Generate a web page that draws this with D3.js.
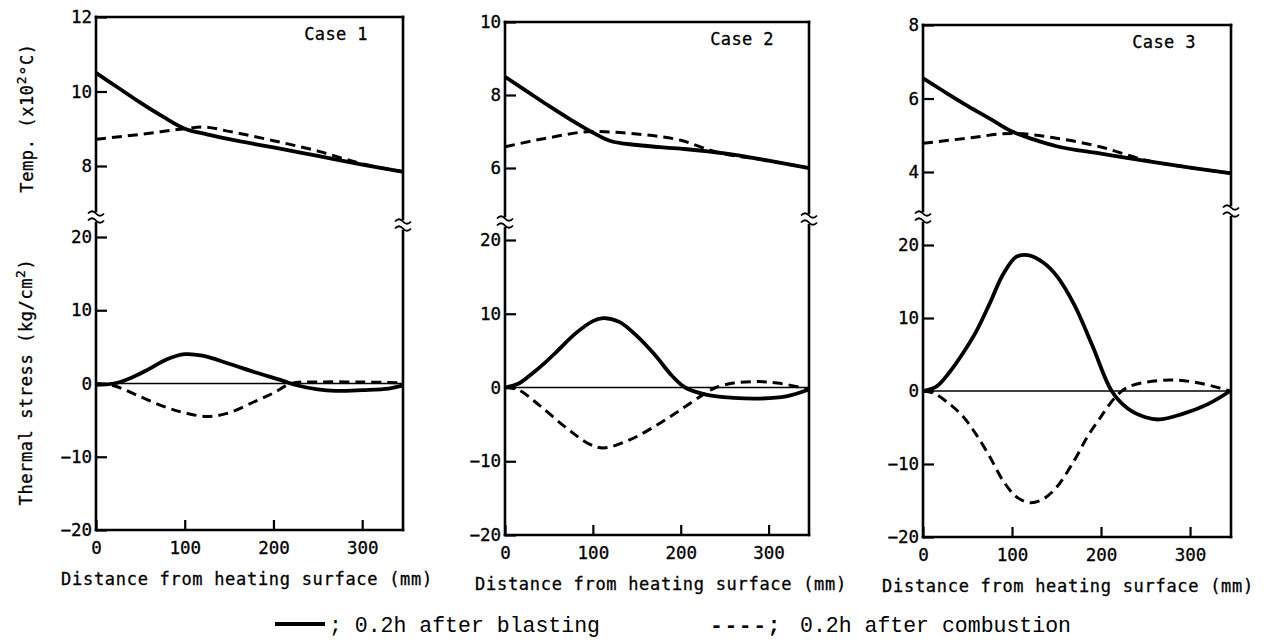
<!DOCTYPE html>
<html>
<head>
<meta charset="utf-8">
<script src="https://cdn.jsdelivr.net/npm/d3@7"></script>
<style>
  body { margin: 0; background: #fff; }
  svg text { fill: #000; }
</style>
</head>
<body>
<svg id="chart" width="1267" height="644"></svg>
<script>
// distance ticks and axis ticks
var xTicks = [0, 100, 200, 300];
var stressTicks = [-20, -10, 0, 10, 20];
var tempTicks1 = [8, 10, 12];
var tempTicks2 = [6, 8, 10];
var tempTicks3 = [4, 6, 8];
var caseNames = ['Case 1', 'Case 2', 'Case 3'];

// temperature (x10^2 C) vs distance (mm)
var c1TempSolid = [[0,10.5],[25,10.1],[50,9.7],[75,9.33],[100,9.0],[125,8.85],[150,8.72],[200,8.5],[250,8.27],[300,8.04],[345,7.85]];
var c1TempDash  = [[0,8.72],[50,8.85],[100,9.0],[120,9.05],[150,8.93],[200,8.68],[250,8.4],[300,8.06],[345,7.85]];
var c2TempSolid = [[0,8.5],[25,8.1],[50,7.7],[75,7.32],[100,6.97],[120,6.74],[150,6.63],[200,6.53],[250,6.4],[300,6.2],[345,6.0]];
var c2TempDash  = [[0,6.58],[50,6.83],[100,7.0],[150,6.93],[200,6.76],[240,6.44],[300,6.2],[345,6.0]];
var c3TempSolid = [[0,6.55],[25,6.17],[50,5.8],[75,5.45],[100,5.1],[125,4.88],[150,4.7],[200,4.5],[250,4.3],[300,4.12],[345,3.97]];
var c3TempDash  = [[0,4.78],[50,4.92],[100,5.05],[150,4.92],[200,4.68],[250,4.32],[300,4.12],[345,3.97]];

// thermal stress (kg/cm2) vs distance (mm)
var c1StressSolid = [[0,-0.2],[20,0],[40,0.8],[60,2.0],[80,3.3],[100,4.0],[120,3.8],[150,2.7],[180,1.5],[210,0.4],[225,-0.2],[250,-0.8],[270,-1.0],[300,-0.9],[330,-0.7],[345,-0.3]];
var c1StressDash  = [[0,0],[20,-0.3],[50,-1.8],[80,-3.3],[100,-4.0],[125,-4.5],[150,-4.0],[180,-2.4],[200,-1.3],[220,0],[250,0.2],[300,0.2],[345,0.1]];
var c2StressSolid = [[0,0],[15,0.5],[30,1.8],[45,3.3],[60,5.0],[80,7.3],[100,9.0],[112,9.4],[130,8.9],[150,7.0],[170,4.5],[190,1.6],[205,0],[230,-1.0],[260,-1.4],[290,-1.5],[320,-1.2],[345,-0.3]];
var c2StressDash  = [[0,0],[15,-0.3],[40,-2.5],[70,-5.5],[95,-7.6],[112,-8.2],[140,-7.2],[170,-5.3],[200,-3.0],[225,-1.0],[240,0],[260,0.6],[285,0.8],[310,0.6],[345,-0.2]];
var c3StressSolid = [[0,0],[15,0.6],[30,2.6],[45,5.2],[60,8.2],[75,12.0],[90,16.0],[105,18.4],[118,18.6],[135,17.6],[150,15.8],[170,11.8],[190,6.3],[212,0],[230,-2.4],[250,-3.6],[265,-3.9],[290,-3.2],[320,-1.8],[345,0]];
var c3StressDash  = [[0,0],[12,-0.3],[30,-1.8],[45,-3.5],[60,-6.0],[75,-9.0],[90,-12.3],[105,-14.5],[120,-15.3],[135,-14.8],[150,-13.2],[170,-9.5],[185,-6.2],[200,-3.5],[215,-1.0],[228,0.4],[250,1.2],[280,1.5],[310,1.1],[345,0]];

var tempTicksAll = [tempTicks1, tempTicks2, tempTicks3];
var tempSolidAll = [c1TempSolid, c2TempSolid, c3TempSolid];
var tempDashAll = [c1TempDash, c2TempDash, c3TempDash];
var stressSolidAll = [c1StressSolid, c2StressSolid, c3StressSolid];
var stressDashAll = [c1StressDash, c2StressDash, c3StressDash];

// page layout of the three panels (pixels)
var layout = [
  {left: 96,  right: 403,  top: 17, tempPx: [166, 17], stressPx: [530, 237], breakL: 217, breakR: 225, titleX: 247},
  {left: 505, right: 809,  top: 22, tempPx: [168, 22], stressPx: [535, 240], breakL: 222, breakR: 219, titleX: 661},
  {left: 923, right: 1231, top: 25, tempPx: [172, 25], stressPx: [537, 245], breakL: 217, breakR: 211, titleX: 1068}
];

var FONT = "'DejaVu Sans Mono', monospace";
var svg = d3.select('#chart');

function breakMark(g, x, y) {
  // little "≈" where the axis is broken
  [-3.5, 3.5].forEach(function(dy) {
    g.append('path')
      .attr('d', 'M' + (x - 8) + ',' + (y + dy) + ' q4,-4.5 8,0 t8,0')
      .attr('fill', 'none')
      .attr('stroke', '#000')
      .attr('stroke-width', 1.8);
  });
}

layout.forEach(function(p, i) {
  var g = svg.append('g');
  var tt = tempTicksAll[i];

  var x = d3.scaleLinear().domain([0, 346]).range([p.left, p.right]);
  var yT = d3.scaleLinear().domain([tt[0], tt[2]]).range(p.tempPx);
  var yS = d3.scaleLinear().domain([-20, 20]).range(p.stressPx);
  var bottom = p.stressPx[0];

  // axis frame lines with breaks
  var frame = [
    [p.left, p.top, p.right, p.top],
    [p.left, p.top, p.left, p.breakL - 6],
    [p.left, p.breakL + 6, p.left, bottom],
    [p.right, p.top, p.right, p.breakR - 6],
    [p.right, p.breakR + 6, p.right, bottom],
    [p.left, bottom, p.right, bottom]
  ];
  frame.forEach(function(f) {
    g.append('line')
      .attr('x1', f[0]).attr('y1', f[1]).attr('x2', f[2]).attr('y2', f[3])
      .attr('stroke', '#000').attr('stroke-width', 2.6).attr('stroke-linecap', 'square');
  });
  breakMark(g, p.left, p.breakL);
  breakMark(g, p.right, p.breakR);

  // zero line
  g.append('line')
    .attr('x1', p.left).attr('x2', p.right)
    .attr('y1', yS(0)).attr('y2', yS(0))
    .attr('stroke', '#000').attr('stroke-width', 1.5);

  // axes
  var axT = g.append('g').attr('transform', 'translate(' + p.left + ',0)')
    .call(d3.axisLeft(yT).tickValues(tt).tickSize(-11).tickPadding(4).tickFormat(d3.format('d')));
  var axS = g.append('g').attr('transform', 'translate(' + p.left + ',0)')
    .call(d3.axisLeft(yS).tickValues(stressTicks).tickSize(-11).tickPadding(4).tickFormat(d3.format('d')));
  var axX = g.append('g').attr('transform', 'translate(0,' + bottom + ')')
    .call(d3.axisBottom(x).tickValues(xTicks).tickSize(-10).tickPadding(12));

  [axT, axS, axX].forEach(function(a) {
    a.select('.domain').remove();
    a.selectAll('line').attr('stroke', '#000').attr('stroke-width', 2.2);
    a.selectAll('text').attr('font-family', FONT).attr('font-size', 17.5).attr('fill', '#000')
      .attr('stroke', '#000').attr('stroke-width', 0.3);
  });

  // curves
  var lineT = d3.line().x(function(d) { return x(d[0]); }).y(function(d) { return yT(d[1]); }).curve(d3.curveMonotoneX);
  var lineS = d3.line().x(function(d) { return x(d[0]); }).y(function(d) { return yS(d[1]); }).curve(d3.curveCatmullRom.alpha(0.5));

  g.append('path').datum(tempDashAll[i]).attr('d', lineT)
    .attr('fill', 'none').attr('stroke', '#000').attr('stroke-width', 3).attr('stroke-dasharray', '10,6');
  g.append('path').datum(tempSolidAll[i]).attr('d', lineT)
    .attr('fill', 'none').attr('stroke', '#000').attr('stroke-width', 3.8);
  g.append('path').datum(stressDashAll[i]).attr('d', lineS)
    .attr('fill', 'none').attr('stroke', '#000').attr('stroke-width', 3).attr('stroke-dasharray', '10,6');
  g.append('path').datum(stressSolidAll[i]).attr('d', lineS)
    .attr('fill', 'none').attr('stroke', '#000').attr('stroke-width', 3.8);

  // case label
  g.append('text')
    .attr('x', p.right - 35).attr('y', p.top + 23)
    .attr('text-anchor', 'end')
    .attr('font-family', FONT).attr('font-size', 17).attr('letter-spacing', 0.4)
    .attr('stroke', '#000').attr('stroke-width', 0.3)
    .text(caseNames[i]);

  // x title
  g.append('text')
    .attr('x', p.titleX).attr('y', bottom + 55)
    .attr('text-anchor', 'middle')
    .attr('font-family', FONT).attr('font-size', 17).attr('letter-spacing', 0.7)
    .attr('stroke', '#000').attr('stroke-width', 0.3)
    .text('Distance from heating surface (mm)');
});

// y titles
var yt1 = svg.append('text')
  .attr('transform', 'translate(33,118) rotate(-90)')
  .attr('text-anchor', 'middle')
  .attr('font-family', FONT).attr('font-size', 17).attr('letter-spacing', 0.6)
  .attr('stroke', '#000').attr('stroke-width', 0.3);
yt1.append('tspan').text('Temp. (x10');
yt1.append('tspan').attr('font-size', 13).attr('dy', -7).text('2');
yt1.append('tspan').attr('dy', 7).text('°C)');

var yt2 = svg.append('text')
  .attr('transform', 'translate(32,382) rotate(-90)')
  .attr('text-anchor', 'middle')
  .attr('font-family', FONT).attr('font-size', 17).attr('letter-spacing', 0.6)
  .attr('stroke', '#000').attr('stroke-width', 0.3);
yt2.append('tspan').text('Thermal stress (kg/cm');
yt2.append('tspan').attr('font-size', 13).attr('dy', -7).text('2');
yt2.append('tspan').attr('dy', 7).text(')');

// legend
var LFONT = "'Liberation Mono', 'Courier New', monospace";
svg.append('line')
  .attr('x1', 275).attr('x2', 325).attr('y1', 624).attr('y2', 624)
  .attr('stroke', '#000').attr('stroke-width', 3.8);
svg.append('text').attr('x', 329).attr('y', 632)
  .attr('font-family', LFONT).attr('font-size', 21.5)
  .text('; 0.2h after blasting');
svg.append('text').attr('x', 710).attr('y', 632)
  .attr('font-family', LFONT).attr('font-size', 21.5).attr('letter-spacing', 1.5)
  .attr('font-weight', 'bold')
  .text('----;');
svg.append('text').attr('x', 800).attr('y', 632)
  .attr('font-family', LFONT).attr('font-size', 21.5)
  .text('0.2h after combustion');
</script>
</body>
</html>
